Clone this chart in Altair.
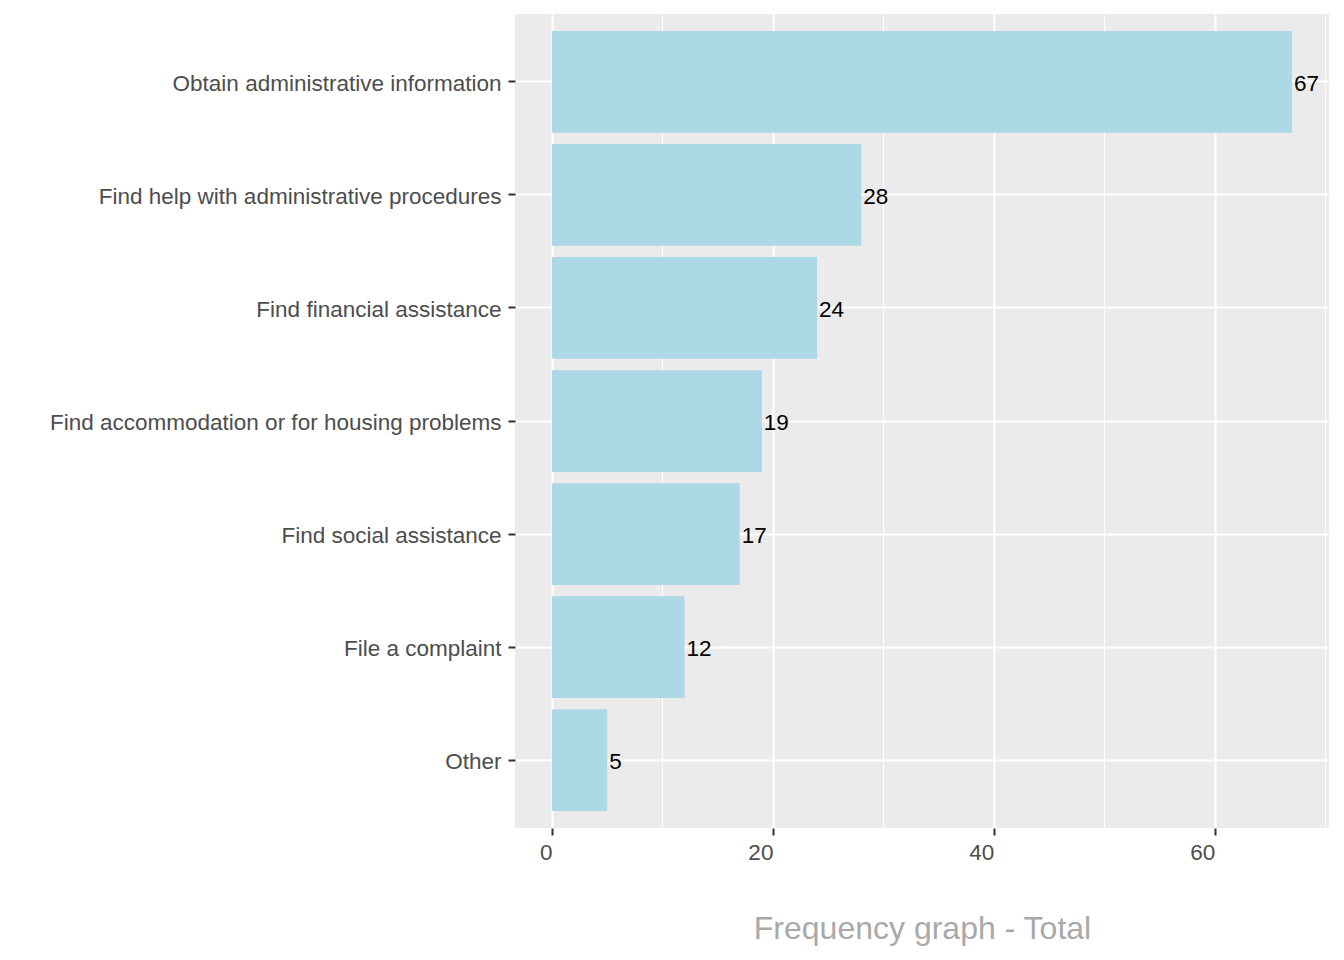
import altair as alt
import pandas as pd

categories = [
    "Obtain administrative information",
    "Find help with administrative procedures",
    "Find financial assistance",
    "Find accommodation or for housing problems",
    "Find social assistance",
    "File a complaint",
    "Other",
]
counts = [67, 28, 24, 19, 17, 12, 5]
x_tick_values = [0, 10, 20, 30, 40, 50, 60, 70]
x_title = "Frequency graph - Total"

df = pd.DataFrame({"category": categories, "count": counts})

FONT = "Liberation Sans"
FS = 22.5

x_scale = alt.Scale(domain=[-3.35, 70.35], nice=False, zero=False)
y_scale = alt.Scale(domain=categories, paddingInner=0.1, paddingOuter=0.15)

major_test = "datum.value % 20 === 0"

x_axis = alt.Axis(
    values=x_tick_values,
    labelExpr=f"{major_test} ? datum.label : ''",
    grid=True,
    gridColor="white",
    gridWidth={"condition": {"test": major_test, "value": 2}, "value": 1},
    tickOpacity={"condition": {"test": major_test, "value": 1}, "value": 0},
    tickColor="#333333",
    tickWidth=2,
    tickSize=7,
    domain=False,
    labelFont=FONT,
    labelFontSize=FS,
    labelColor="#4D4D4D",
    labelAlign="right",
    labelPadding=6,
    labelFlush=False,
    labelOverlap=False,
    title=x_title,
    titleFont=FONT,
    titleFontSize=32,
    titleFontWeight="normal",
    titleColor="#A9A9A9",
    titlePadding=50,
)

y_axis = alt.Axis(
    grid=True,
    gridColor="white",
    gridWidth=2,
    bandPosition=0.5,
    tickColor="#333333",
    tickWidth=2,
    tickSize=7,
    domain=False,
    labelFont=FONT,
    labelFontSize=FS,
    labelColor="#4D4D4D",
    labelPadding=7,
    labelOffset=2,
    labelLimit=1000,
    title=None,
)

base = alt.Chart(df)

bars = base.mark_bar(color="#ADD8E6").encode(
    x=alt.X("count:Q", scale=x_scale, axis=x_axis),
    y=alt.Y("category:N", scale=y_scale, axis=y_axis, sort=categories),
)

labels = base.mark_text(
    align="left", baseline="middle", dx=2, dy=2, font=FONT, fontSize=FS, color="black"
).encode(
    x=alt.X("count:Q", scale=x_scale),
    y=alt.Y("category:N", scale=y_scale, sort=categories),
    text=alt.Text("count:Q"),
)

chart = (
    alt.layer(bars, labels)
    .properties(
        width=814,
        height=814,
        autosize=alt.AutoSizeParams(type="none"),
        padding={"left": 507, "top": 6, "right": 7, "bottom": 124},
        background="white",
    )
    .configure_view(fill="#EBEBEB", stroke=None)
)

chart.save("out.html", embed_options={"renderer": "svg", "actions": False})
